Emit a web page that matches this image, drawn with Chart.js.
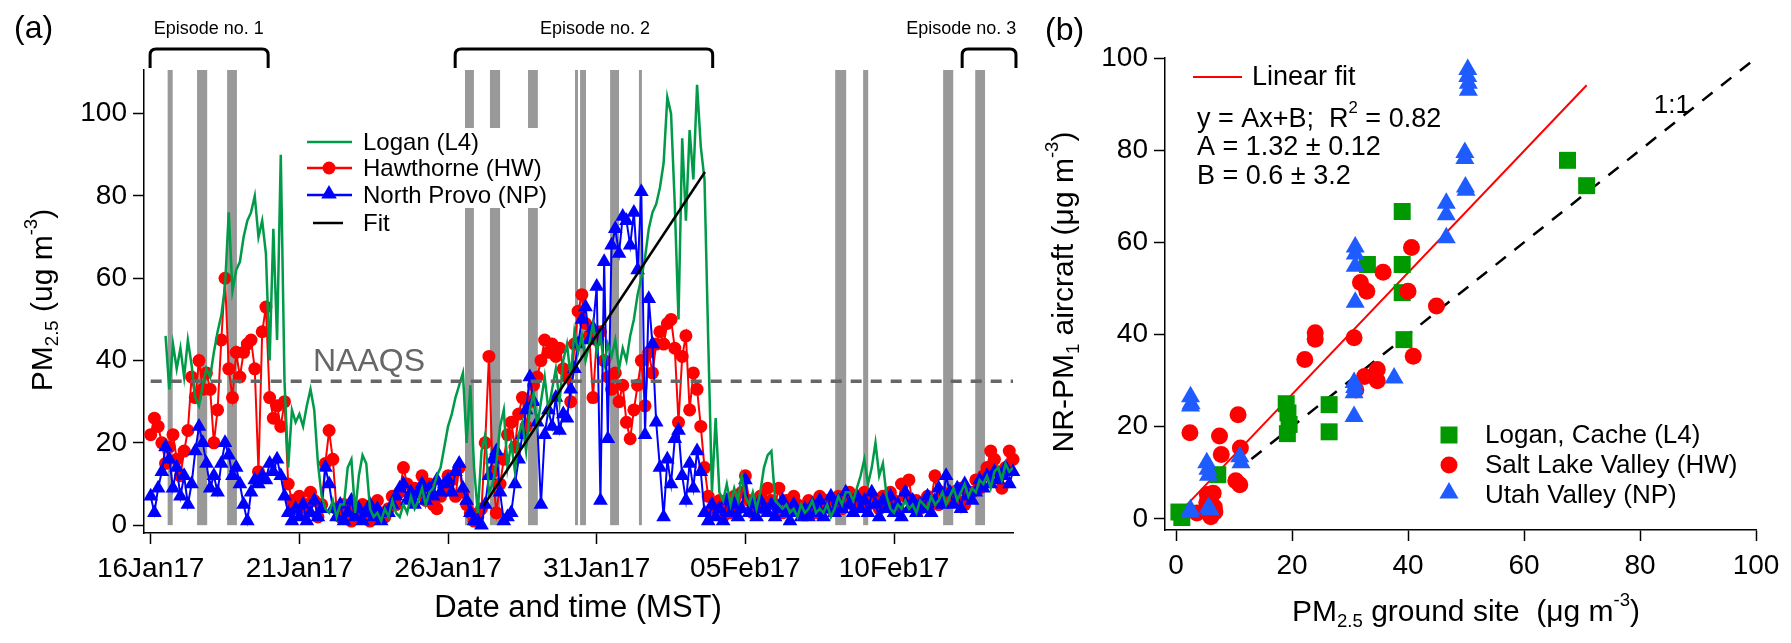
<!DOCTYPE html>
<html>
<head>
<meta charset="utf-8">
<script src="https://cdn.jsdelivr.net/npm/chart.js@4.4.1/dist/chart.umd.min.js"></script>
<style>
  html, body { margin: 0; padding: 0; background: #fff; width: 1791px; height: 643px; overflow: hidden; }
  #wrapA { position: absolute; left: 0; top: 0; width: 1040px; height: 643px; }
  #wrapB { position: absolute; left: 1040px; top: 0; width: 751px; height: 643px; }
</style>
</head>
<body>
<div id="wrapA"><canvas id="chartA" width="1040" height="643"></canvas></div>
<div id="wrapB"><canvas id="chartB" width="751" height="643"></canvas></div>
<script>
// ---- panel (a): 3-hourly PM2.5, x in days since 16 Jan 2017 00:00 MST ----
var stepDays = 0.125;

var loganStart = 0.5;
var logan = [
  46, 33, 44, 38, 43, 36, 45, 39,
  31, 29, 34, 38, 36, 42, 47, 51,
  58, 76, 57, 62, 64, 70, 74, 76,
  80, 70, 74, 66, 40, 72, 45, 90,
  35, 14, 28, 25, 27, 24, 29, 33,
  28, 15, 7, 4, 3, 6, 2, 5,
  5, 14, 16, 3, 12, 17, 15, 4,
  2, 3, 1, 4, 2, 6, 3, 2,
  5, 3, 7, 4, 6, 9, 5, 8,
  9, 12, 14, 19, 24, 27, 31, 34,
  37, 20, 34, 14, 3, 18, 22, 8,
  10, 15, 24, 28, 14, 20, 13, 22,
  25, 18, 28, 32, 24, 30, 36, 28,
  33, 38, 30, 40, 44, 36, 47, 42,
  46, 40, 44, 49, 42, 46, 39, 44,
  41, 45, 38, 43, 40, 46, 50, 56,
  60, 65, 72, 76, 78, 82, 88, 104,
  100, 78, 50, 94, 74, 96, 84, 107,
  92, 84, 45, 8, 26, 8, 6, 10,
  5, 9, 6, 12, 7, 5, 8, 4,
  8, 14, 17, 18, 6, 5, 4, 5,
  3, 4, 2, 5, 3, 4, 6, 3,
  4, 3, 5, 2, 4, 7, 5, 8,
  8, 6, 9, 12, 16, 10, 14, 20,
  12, 15, 7, 4, 3, 5, 4, 6,
  4, 5, 3, 6, 5, 4, 7, 5,
  6, 8, 5, 7, 9, 6, 8, 10,
  7, 9, 8, 11, 10, 12, 9, 13,
  14, 11, 15, 13, 14
];

var hawthorneStart = 0;
var hawthorne = [
  22, 26, 24, 20, 15, 19, 22, 16,
  12, 18, 23, 36, 31, 40, 33, 37,
  33, 20, 28, 45, 60, 38, 31, 42,
  36, 42, 44, 45, 38, 13, 47, 53,
  31, 26, 29, 24, 30, 10, 6, 4,
  7, 3, 5, 8, 6, 2, 5, 15,
  23, 16, 4, 2, 5, 3, 1, 4,
  2, 5, 3, 1, 4, 6, 3, 2,
  4, 7, 5, 8, 14, 10, 7, 9,
  8, 12, 6, 10, 5, 4, 7, 9,
  12, 11, 7, 14, 8, 5, 3, 1,
  2, 4, 20, 41, 13, 3, 10, 16,
  22, 25, 19, 27, 31, 24, 30, 34,
  36, 40, 45, 42, 44, 41, 43, 38,
  36, 30, 44, 52, 56, 49, 46, 31,
  45, 47, 40, 36, 33, 37, 30, 34,
  25, 21, 28, 34, 40, 29, 42, 37,
  44, 47, 44, 49, 50, 43, 25, 41,
  46, 28, 37, 33, 24, 14, 7, 3,
  4, 6, 2, 5, 3, 7, 4, 8,
  12, 6, 3, 5, 7, 4, 9, 6,
  5, 9, 3, 6, 4, 7, 5, 3,
  4, 6, 5, 3, 7, 5, 6, 4,
  5, 7, 4, 6, 8, 5, 7, 6,
  8, 5, 7, 6, 4, 7, 5, 8,
  6, 4, 10, 7, 11, 5, 6, 4,
  5, 7, 6, 12, 5, 8, 6, 7,
  8, 6, 9, 5, 7, 8, 11, 9,
  12, 14, 18, 16, 13, 9, 14, 18,
  16
];

var provoStart = 0;
var provo = [
  7, 3, 9, 13, 19, 16, 9, 14,
  7, 12, 5, 10, 18, 24, 20, 15,
  9, 12, 8, 15, 20, 17, 12, 14,
  10, 5, 1, 8, 11, 10, 12, 11,
  15, 13, 16, 12, 7, 3, 1, 4,
  2, 5, 1, 3, 6, 2, 4, 14,
  10, 4, 2, 5, 1, 3, 6, 2,
  4, 1, 3, 5, 2, 4, 1, 3,
  3, 5, 7, 9, 10, 6, 8, 5,
  8, 10, 6, 9, 7, 11, 8, 10,
  11, 8, 13, 15, 9, 6, 3, 1,
  1, 0, 5, 12, 16, 18, 8, 1,
  2, 3, 10, 16, 22, 28, 36, 30,
  25, 5, 22, 28, 24, 31, 23, 27,
  26, 33, 38, 44, 50, 53, 45, 48,
  58, 6, 64, 21, 68, 72, 66, 75,
  74, 68, 76, 62, 81, 22, 55, 44,
  25, 14, 2, 16, 10, 21, 23, 12,
  6, 15, 9, 18, 13, 3, 1, 5,
  2, 4, 1, 6, 3, 5, 2, 4,
  11, 3, 5, 2, 6, 4, 3, 5,
  2, 4, 6, 3, 1, 5, 3, 2,
  4, 2, 5, 3, 6, 2, 4, 7,
  3, 6, 4, 8, 5, 3, 7, 4,
  6, 3, 8, 5, 2, 6, 4, 7,
  3, 5, 2, 8, 4, 6, 3, 5,
  4, 7, 3, 6, 9, 5, 12, 8,
  5, 9, 4, 10, 7, 6, 8, 11,
  9, 12, 10, 13, 11, 12, 14, 10,
  13
];

var naaqs = 35;
var fitA = [[11.18, 4.6], [18.64, 85.8]];
// aircraft flight periods (start day, end day)
var flights = [
  [0.57, 0.74], [1.56, 1.90], [2.57, 2.90],
  [10.57, 10.87], [11.41, 11.75], [12.69, 13.02], [14.27, 14.37], [14.44, 14.64],
  [15.45, 15.75], [16.42, 16.52], [23.02, 23.39], [23.96, 24.13],
  [26.65, 26.99], [27.73, 28.06]
];
var episodeNames = ['Episode no. 1', 'Episode no. 2', 'Episode no. 3'];
var episodeSpans = [[-0.02, 3.95], [10.24, 18.9], [27.29, 29.1]];
var episodeLabelAt = [1.95, 14.94, 27.26];
var dayTicks = [0, 5, 10, 15, 20, 25];
var dayTickLabels = ['16Jan17', '21Jan17', '26Jan17', '31Jan17', '05Feb17', '10Feb17'];
var pmTicks = [0, 20, 40, 60, 80, 100];

// ---- panel (b): aircraft NR-PM1 vs ground PM2.5 ----
var loganX = [0.5, 1.0, 7.2, 19.0, 19.3, 19.5, 19.2, 26.4, 26.4, 39.3, 39.0, 39.0, 33.0, 39.0, 67.5, 70.8];
var loganY = [1.5, 0.3, 9.6, 25.0, 23.0, 20.5, 18.5, 24.8, 18.9, 38.9, 49.1, 55.2, 55.2, 66.7, 77.8, 72.3];
var hwX = [2.4, 10.3, 11.0, 6.4, 5.3, 6.7, 3.6, 6.0, 7.5, 7.8, 10.7, 11.1, 5.7, 6.6, 5.4,
           22.2, 24.0, 24.0, 30.7, 31.8, 32.9, 35.7, 40.6, 40.0, 44.9, 40.9, 32.5, 34.7, 34.7, 31.0];
var hwY = [18.7, 8.3, 7.4, 5.6, 3.5, 1.5, 1.3, 0.5, 18.0, 14.0, 22.6, 15.4, 4.8, 2.6, 5.3,
           34.6, 40.4, 39.0, 39.3, 51.3, 49.4, 53.5, 58.9, 49.4, 46.2, 35.3, 30.9, 32.4, 30.0, 28.0];
var npX = [2.5, 2.6, 2.5, 2.5, 2.4, 5.9, 5.3, 5.5, 5.6, 11.0, 11.2, 5.6, 30.7, 30.7, 30.8, 30.7,
           37.6, 30.9, 30.9, 30.9, 30.9, 46.6, 46.6, 46.6, 49.9, 50.0, 49.8, 49.8, 50.3, 50.3, 50.4, 50.4];
var npY = [26.5, 25.0, 24.5, 2.0, 1.5, 2.0, 12.2, 10.8, 9.5, 13.5, 12.2, 2.5, 22.2, 29.6, 28.5, 27.4,
           30.6, 47.0, 59.0, 57.5, 54.8, 68.5, 66.0, 61.0, 72.0, 71.3, 79.5, 78.2, 97.5, 96.0, 94.5, 93.0];
var fitB = [[0.5, 1.26], [70.8, 94.1]];
var oneToOne = [[13, 13], [100, 100]];
var pmTicksB = [0, 20, 40, 60, 80, 100];

var FONT = "'Liberation Sans', Arial, Helvetica, sans-serif";
Chart.defaults.font.family = FONT;
Chart.defaults.color = '#000';

function series(start, values) {
  return values.map(function (v, i) { return { x: start + i * stepDays, y: v }; });
}
function pairs(xs, ys) {
  return xs.map(function (x, i) { return { x: x, y: ys[i] }; });
}
function pts(list) {
  return list.map(function (p) { return { x: p[0], y: p[1] }; });
}

// text with sub/superscripts, centred on (x, y)
function rich(ctx, parts, x, y, size, angle, align, color) {
  var small = size * 0.62;
  ctx.save();
  ctx.translate(x, y);
  if (angle) ctx.rotate(angle);
  var widths = parts.map(function (p) {
    ctx.font = (p[1] ? small : size) + 'px ' + FONT;
    return ctx.measureText(p[0]).width;
  });
  var total = widths.reduce(function (a, b) { return a + b; }, 0);
  var cx = align === 'left' ? 0 : -total / 2;
  ctx.textAlign = 'left';
  ctx.textBaseline = 'alphabetic';
  ctx.fillStyle = color || '#000';
  parts.forEach(function (p, i) {
    ctx.font = (p[1] ? small : size) + 'px ' + FONT;
    var dy = size * 0.36;
    if (p[1] === 'sub') dy += size * 0.22;
    if (p[1] === 'sup') dy -= size * 0.5;
    ctx.fillText(p[0], cx, dy);
    cx += widths[i];
  });
  ctx.restore();
}

function marker(ctx, style, x, y, r, color) {
  ctx.save();
  ctx.fillStyle = color;
  ctx.beginPath();
  if (style === 'circle') {
    ctx.arc(x, y, r, 0, Math.PI * 2);
  } else if (style === 'triangle') {
    ctx.moveTo(x, y - r);
    ctx.lineTo(x + r * 0.866, y + r * 0.5);
    ctx.lineTo(x - r * 0.866, y + r * 0.5);
    ctx.closePath();
  } else {
    ctx.rect(x - r, y - r, 2 * r, 2 * r);
  }
  ctx.fill();
  ctx.restore();
}

function bracket(ctx, x0, x1, yTop, yBot) {
  var r = 6;
  ctx.beginPath();
  ctx.moveTo(x0, yBot);
  ctx.lineTo(x0, yTop + r);
  ctx.quadraticCurveTo(x0, yTop, x0 + r, yTop);
  ctx.lineTo(x1 - r, yTop);
  ctx.quadraticCurveTo(x1, yTop, x1, yTop + r);
  ctx.lineTo(x1, yBot);
  ctx.stroke();
}

var panelA = {
  id: 'panelA',
  beforeDatasetsDraw: function (chart) {
    var ctx = chart.ctx, xs = chart.scales.x, ys = chart.scales.y;
    var top = chart.chartArea.top, base = ys.getPixelForValue(0);
    ctx.save();
    ctx.fillStyle = '#999';
    flights.forEach(function (f) {
      var x0 = xs.getPixelForValue(f[0]), x1 = xs.getPixelForValue(f[1]);
      ctx.fillRect(x0, top, x1 - x0, base - top);
    });
    // legend box background
    ctx.fillStyle = '#fff';
    ctx.fillRect(300, 128, 256, 80);
    ctx.restore();
  },
  afterDraw: function (chart) {
    var ctx = chart.ctx, xs = chart.scales.x;
    ctx.save();
    // episode brackets
    ctx.strokeStyle = '#000';
    ctx.lineWidth = 3;
    ctx.fillStyle = '#000';
    ctx.font = '18px ' + FONT;
    ctx.textAlign = 'center';
    ctx.textBaseline = 'middle';
    episodeSpans.forEach(function (s, i) {
      bracket(ctx, xs.getPixelForValue(s[0]), xs.getPixelForValue(s[1]), 49, 68);
      ctx.fillText(episodeNames[i], xs.getPixelForValue(episodeLabelAt[i]), 29);
    });
    // panel tag
    ctx.textAlign = 'left';
    ctx.font = '32px ' + FONT;
    ctx.fillText('(a)', 14, 29);
    // NAAQS label
    ctx.fillStyle = '#666';
    ctx.fillText('NAAQS', 313, 362);
    // legend
    var rows = [142, 168, 195, 223];
    var names = ['Logan (L4)', 'Hawthorne (HW)', 'North Provo (NP)', 'Fit'];
    var cols = ['#009a48', '#ff0000', '#0000ff', '#000'];
    ctx.font = '24px ' + FONT;
    ctx.fillStyle = '#000';
    rows.forEach(function (y, i) {
      ctx.strokeStyle = cols[i];
      ctx.lineWidth = 2.5;
      ctx.beginPath();
      if (i === 3) { ctx.moveTo(313, y); ctx.lineTo(343, y); }
      else { ctx.moveTo(307, y); ctx.lineTo(352, y); }
      ctx.stroke();
      if (i === 1) marker(ctx, 'circle', 329, y, 6.5, cols[i]);
      if (i === 2) marker(ctx, 'triangle', 329, y - 1, 9, cols[i]);
      ctx.fillStyle = '#000';
      ctx.fillText(names[i], 363, y + 1);
    });
    // axis titles
    rich(ctx, [['Date and time (MST)']], 578, 606, 31);
    rich(ctx, [['PM'], ['2.5', 'sub'], [' (ug m'], ['-3', 'sup'], [')']], 41, 300, 30, -Math.PI / 2);
    ctx.restore();
  }
};

var panelB = {
  id: 'panelB',
  afterDraw: function (chart) {
    var ctx = chart.ctx;
    ctx.save();
    ctx.fillStyle = '#000';
    ctx.textAlign = 'left';
    ctx.textBaseline = 'middle';
    ctx.font = '32px ' + FONT;
    ctx.fillText('(b)', 5, 31);
    // fit legend + equation
    ctx.strokeStyle = '#ff0000';
    ctx.lineWidth = 2;
    ctx.beginPath();
    ctx.moveTo(153, 77);
    ctx.lineTo(202, 77);
    ctx.stroke();
    ctx.font = '27px ' + FONT;
    ctx.fillText('Linear fit', 212, 78);
    rich(ctx, [['y = Ax+B;  R'], ['2', 'sup'], [' = 0.82']], 157, 117, 27, 0, 'left');
    ctx.fillText('A = 1.32 \u00b1 0.12', 157, 148);
    ctx.fillText('B = 0.6 \u00b1 3.2', 157, 177);
    ctx.font = '26px ' + FONT;
    ctx.textAlign = 'right';
    ctx.fillText('1:1', 650, 106);
    ctx.textAlign = 'left';
    // site legend
    var rows = [435, 465, 495];
    var names = ['Logan, Cache (L4)', 'Salt Lake Valley (HW)', 'Utah Valley (NP)'];
    marker(ctx, 'rect', 409, rows[0], 8.5, '#009900');
    marker(ctx, 'circle', 409, rows[1], 8.5, '#ff0000');
    marker(ctx, 'triangle', 409, rows[2] - 2, 11, '#1f5cff');
    ctx.fillStyle = '#000';
    rows.forEach(function (y, i) { ctx.fillText(names[i], 445, y + 1); });
    // axis titles
    rich(ctx, [['NR-PM'], ['1', 'sub'], [' aircraft (\u03bcg m'], ['-3', 'sup'], [')']], 22, 292, 30, -Math.PI / 2);
    rich(ctx, [['PM'], ['2.5', 'sub'], [' ground site  (\u03bcg m'], ['-3', 'sup'], [')']], 426, 610, 30);
    ctx.restore();
  }
};

function axisStyle(extra) {
  var o = {
    grid: { display: true, drawOnChartArea: false, drawTicks: true, tickLength: 11, tickColor: '#000', tickWidth: 1.5 },
    border: { display: true, color: '#000', width: 1.5 },
    ticks: { color: '#000', font: { size: 28 }, padding: 6, maxRotation: 0, autoSkip: false }
  };
  for (var k in extra) o[k] = extra[k];
  return o;
}

new Chart(document.getElementById('chartA'), {
  type: 'scatter',
  data: {
    datasets: [
      { label: 'NAAQS', data: pts([[0, naaqs], [29, naaqs]]), showLine: true, pointRadius: 0,
        borderColor: '#666', borderWidth: 3.5, borderDash: [11, 9], order: 0 },
      { label: 'Fit', data: pts(fitA), showLine: true, pointRadius: 0,
        borderColor: '#000', borderWidth: 2.5, order: 1 },
      { label: 'Logan (L4)', data: series(loganStart, logan), showLine: true, pointRadius: 0,
        borderColor: '#009a48', borderWidth: 2.5, order: 2 },
      { label: 'North Provo (NP)', data: series(provoStart, provo), showLine: true,
        borderColor: '#0000ff', borderWidth: 2, pointStyle: 'triangle', pointRadius: 8.5,
        pointBackgroundColor: '#0000ff', pointBorderWidth: 0, clip: false, order: 3 },
      { label: 'Hawthorne (HW)', data: series(hawthorneStart, hawthorne), showLine: true,
        borderColor: '#ff0000', borderWidth: 2, pointStyle: 'circle', pointRadius: 6.5,
        pointBackgroundColor: '#ff0000', pointBorderWidth: 0, clip: false, order: 4 }
    ]
  },
  options: {
    responsive: false,
    animation: false,
    devicePixelRatio: 1,
    layout: { padding: { left: 0, right: 27, top: 70, bottom: 0 } },
    plugins: { legend: { display: false }, tooltip: { enabled: false } },
    scales: {
      x: axisStyle({
        type: 'linear', min: -0.225, max: 29.0,
        afterBuildTicks: function (s) { s.ticks = dayTicks.map(function (v) { return { value: v }; }); },
        afterFit: function (s) { s.height = 110; },
        ticks: { color: '#000', font: { size: 28 }, padding: 8, maxRotation: 0, autoSkip: false,
                 callback: function (v, i) { return dayTickLabels[i]; } }
      }),
      y: axisStyle({
        min: -1.9, max: 110.6,
        afterBuildTicks: function (s) { s.ticks = pmTicks.map(function (v) { return { value: v }; }); },
        afterFit: function (s) { s.width = 144; }
      })
    }
  },
  plugins: [panelA]
});

new Chart(document.getElementById('chartB'), {
  type: 'scatter',
  data: {
    datasets: [
      { label: 'Utah Valley (NP)', data: pairs(npX, npY), pointStyle: 'triangle', pointRadius: 11,
        pointBackgroundColor: '#1f5cff', pointBorderWidth: 0, clip: false, order: 0 },
      { label: 'Salt Lake Valley (HW)', data: pairs(hwX, hwY), pointStyle: 'circle', pointRadius: 8.5,
        pointBackgroundColor: '#ff0000', pointBorderWidth: 0, clip: false, order: 1 },
      { label: 'Logan, Cache (L4)', data: pairs(loganX, loganY), pointStyle: 'rect', pointRadius: 12,
        pointBackgroundColor: '#009900', pointBorderWidth: 0, clip: false, order: 2 },
      { label: 'Linear fit', data: pts(fitB), showLine: true, pointRadius: 0,
        borderColor: '#ff0000', borderWidth: 2, order: 3 },
      { label: '1:1', data: pts(oneToOne), showLine: true, pointRadius: 0,
        borderColor: '#000', borderWidth: 2.5, borderDash: [13, 11], order: 4 }
    ]
  },
  options: {
    responsive: false,
    animation: false,
    devicePixelRatio: 1,
    layout: { padding: { left: 0, right: 35, top: 58, bottom: 0 } },
    plugins: { legend: { display: false }, tooltip: { enabled: false } },
    scales: {
      x: axisStyle({
        min: -1.9, max: 100,
        afterBuildTicks: function (s) { s.ticks = pmTicksB.map(function (v) { return { value: v }; }); },
        afterFit: function (s) { s.height = 113; },
        ticks: { color: '#000', font: { size: 28 }, padding: 8, maxRotation: 0, autoSkip: false }
      }),
      y: axisStyle({
        min: -2.4, max: 100,
        afterBuildTicks: function (s) { s.ticks = pmTicksB.map(function (v) { return { value: v }; }); },
        afterFit: function (s) { s.width = 125; }
      })
    }
  },
  plugins: [panelB]
});
</script>
</body>
</html>
